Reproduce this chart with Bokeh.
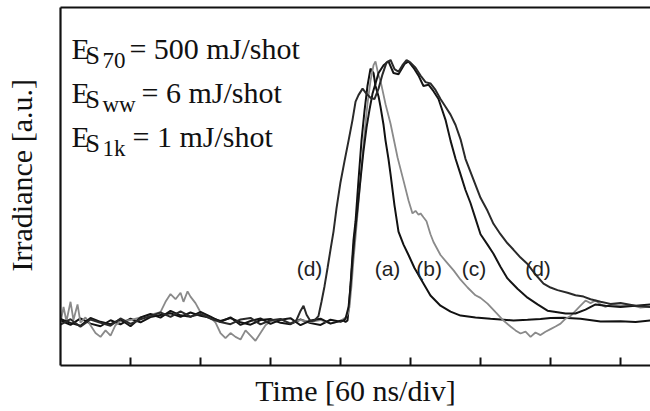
import math
from bokeh.plotting import figure
from bokeh.models import Range1d, LinearAxis, FixedTicker, Label
from bokeh.embed import file_html
from bokeh.resources import INLINE

# ---------------- data (time in ns, irradiance in %) ----------------
base_t = [0, 8.6, 17.1, 25.7, 34.3, 42.9, 51.4, 60, 68.6, 77.1, 85.7, 94.3, 102.9, 111.4, 120,
          128.6, 137.1, 145.7, 154.3, 162.9, 171.4, 180, 188.6, 197.1, 205.7, 214.3, 222.9, 231.4, 240]

a_base = [0.8, -0.9, 1.6, -0.4, -1.4, 0.9, -0.7, 1.5, 0.1, 2.1, 2.9, 3.6, 2.2, 3.9, 2.6,
          1.9, 0.6, 1.8, 0.1, -0.8, 1.0, 1.4, -0.1, -0.6, 1.2, -0.2, -0.9, 1.1, 0.3]
a_pulse_t = [242.6, 244.3, 246, 247.7, 249.4, 251.1, 252.9, 255.4, 258, 260.6, 263.1, 265.7, 268.3,
             270, 272.6, 274.3, 276.9, 278.6, 281.1, 282.9, 286.3, 289.7, 294, 298.3, 303.4, 308.6,
             317.1, 325.7, 334.3, 342.9, 355.7, 368.6, 377.1, 388.3, 400.3, 411.4, 420, 431.1,
             445.7, 462.9, 480, 492.9, 505.7]
a_pulse = [0.9, 0.2, 0.8, 8.5, 20, 31.5, 39, 54.6, 70, 81.5, 91, 97.7, 96,
           91, 87, 83, 76, 70, 63, 57, 45, 35, 30, 26, 21, 17,
           10.4, 6.5, 4.2, 2.7, 2.0, 1.5, 1.2, 0.8, 1.1, 1.4, 1.8, 1.9,
           1.5, 0.4, 0.5, 0.2, 0.8]

b_t = [0, 2.6, 5.1, 8.6, 11.1, 14.6, 17.1, 21.4, 25.7, 30, 34.3, 38.6, 42.9, 47.1, 51.4, 60, 68.6,
       77.1, 85.7, 90, 94.3, 98.6, 102.9, 105.4, 108.9, 111.4, 115.7, 120, 128.6, 132.9, 137.1,
       141.4, 145.7, 150, 154.3, 158.6, 162.9, 167.1, 171.4, 175.7, 180, 188.6, 197.1, 205.7,
       214.3, 222.9, 231.4, 240, 244.3, 246, 247.7, 249.4, 251.1, 252.9, 255.4, 258, 260.6, 263.1,
       265.7, 268.3, 270, 272.6, 274.3, 278.6, 282.9, 288.9, 294, 298.3, 301.7, 304.3, 306.9,
       308.6, 311.1, 313.7, 317.1, 319.7, 325.7, 331.4, 337.1, 342.9, 348.9, 355.7, 360, 366,
       372.9, 379.7, 385.7, 390, 394.3, 398.6, 402.9, 407.1, 411.4, 415.7, 420, 424.3, 428.6,
       432.9, 437.1, 441.4, 445.7, 450, 454.3, 458.6, 462.9, 467.1, 471.4, 480, 488.6, 497.1, 505.7]
b_y = [0, 6, 0.5, 8, 1, 7, 0, 2, -1, -4, -5.5, -3, -5, -1, 0.5, 1, 2,
       3, 4, 8, 11, 9, 11.5, 8, 12, 10, 7.5, 4, 2, 0, -4,
       -6, -4, -5.5, -6.5, -3, -5, -7, -4, -1, 0.5, 1.2, -0.2, 1,
       0.3, 1, -0.3, 0.6, 2, 3, 6, 14, 24, 33, 46, 60, 73, 84,
       93, 99, 100.5, 95, 93, 84, 76.5, 63.5, 54.6, 47, 42, 43, 41.5,
       42, 40.5, 39, 34, 31, 26, 23, 20, 16.5, 13.5, 10.5, 9.5, 7.3,
       4, 0.8, -1.5, -3, -4.2, -3.5, -5.5, -3.8, -4.8, -3.5, -2.5, -1.5, -0.4,
       1.5, 2.5, 4.5, 6.5, 8.5, 7.5, 8.5, 7, 6, 7, 6.5, 6.8, 5.8, 6.2]

c_base = [1.4, -0.1, -1.2, 1.8, 0.3, -0.6, 1.2, -1.4, 2.0, 3.3, 1.9, 4.5, 2.8, 2.2, 4.1,
          2.3, 0.3, 2.0, -0.9, 0.6, 1.6, -0.5, 1.1, 1.7, -1.0, 0.8, 1.5, -0.4, 0.7]
c_pulse_t = [242.6, 244.3, 246.9, 248.6, 250.3, 252, 254.6, 257.1, 259.7, 262.3, 264.9, 267.4, 270,
             272.6, 276.9, 281.1, 285.4, 289.7, 294.9, 298.3, 302.6, 306.9, 311.1, 315.4, 319.7,
             324, 330, 334.3, 338.6, 342.9, 347.1, 351.4, 355.7, 360, 366, 371.1, 377.1, 383.1,
             391.7, 400.3, 408.9, 417.4, 426, 432.9, 441.4, 450, 458.6, 467.1, 480, 492.9, 505.7]
c_pulse = [0.8, 1.5, 6, 14, 24, 33, 44, 55, 66, 75, 82, 88, 92,
           96, 99, 100.5, 96, 95.5, 99.5, 100.5, 98, 95, 91, 91.5, 89,
           86, 78, 70, 63, 57, 51, 46, 40, 34, 30, 26.5, 21.5, 17,
           13, 9.6, 7, 4.6, 4, 3.5, 3.5, 5, 7, 6.5, 6, 6.5, 7]

d_t = [0, 8.6, 17.1, 25.7, 34.3, 42.9, 51.4, 60, 68.6, 77.1, 85.7, 94.3, 102.9, 111.4, 120,
       128.6, 137.1, 145.7, 154.3, 162.9, 171.4, 180, 188.6, 197.1, 202.3, 205.7, 208.3, 210.9,
       214.3, 217.7, 221.1, 223.7, 226.3, 228.9, 231.4, 234, 236.6, 240, 243.4, 246.9, 250.3,
       252.9, 255.4, 258.9, 262.3, 265.7, 269.1, 272.6, 276, 279.4, 282.9, 286.3, 289.7, 293.1,
       296.6, 300, 304.3, 308.6, 312.9, 317.1, 321.4, 325.7, 330, 334.3, 338.6, 342.9, 347.1,
       351.4, 355.7, 360, 366, 371.1, 377.1, 383.1, 388.3, 394.3, 400.3, 407.1, 414, 420, 426,
       434.6, 441.4, 448.3, 454.3, 462.9, 471.4, 480, 492.9, 505.7]
d_y = [-0.8, 1.3, -1.6, 1.2, -0.1, -1.2, 1.6, -0.5, 1.3, 2.5, 3.9, 2.2, 4.3, 2.3, 3.3,
       1.5, 0.2, -0.6, 1.2, 1.8, -0.7, 0.9, 1.4, -0.5, 1, 4.5, 6.5, 3,
       0.5, 0.8, 2.5, 8, 14, 21, 28, 35, 44, 54, 62, 70, 78,
       85, 87.5, 90, 88, 86.5, 86, 90, 95.5, 100, 101, 97.5, 96.5, 99,
       101, 100, 98, 95, 92.5, 92, 89.5, 86, 83, 80, 76, 70.5, 63,
       58, 53, 48, 43, 38, 34, 30.5, 28, 25, 22.5, 18.5, 15, 13.5, 12.5,
       11.5, 10.5, 10, 9, 8, 7.2, 7.5, 6.5, 6]

label_text = ["(d)", "(a)", "(b)", "(c)", "(d)"]
label_t = [213.4, 280.3, 315.9, 354.4, 409.3]
label_y = [20.8, 20.8, 20.8, 20.8, 20.8]

x_ticks = [60, 120, 180, 240, 300, 360, 420, 480]

X_MIN, X_MAX = 0, 505.7
Y_MIN, Y_MAX = -16.5, 121.2

# ---------------- figure ----------------
p = figure(width=650, height=411, output_backend="svg", toolbar_location=None,
           x_range=Range1d(X_MIN, X_MAX), y_range=Range1d(Y_MIN, Y_MAX),
           min_border_left=60, min_border_right=0, min_border_top=7, min_border_bottom=46)
p.outline_line_color = None
p.xgrid.visible = False
p.ygrid.visible = False
p.background_fill_color = "white"
p.border_fill_color = "white"

serif = "Liberation Serif"
ink = "#111111"

xa = p.xaxis[0]
xa.ticker = FixedTicker(ticks=[])
xa.major_tick_in = 0
xa.major_tick_out = 0
xa.minor_tick_line_color = None
xa.axis_line_width = 2.2
xa.axis_line_color = ink
xa.axis_label = "Time [60 ns/div]"
xa.axis_label_text_font = serif
xa.axis_label_text_font_size = "30px"
xa.axis_label_text_font_style = "normal"
xa.axis_label_text_color = ink
xa.axis_label_standoff = 8

ya = p.yaxis[0]
ya.ticker = FixedTicker(ticks=[])
ya.major_tick_in = 0
ya.major_tick_out = 0
ya.minor_tick_line_color = None
ya.axis_line_width = 2.2
ya.axis_line_color = ink
ya.axis_label = "\u00a0\u00a0\u00a0Irradiance [a.u.]"
ya.axis_label_text_font = serif
ya.axis_label_text_font_size = "30px"
ya.axis_label_text_font_style = "normal"
ya.axis_label_text_color = ink
ya.axis_label_standoff = 23

top = LinearAxis(ticker=FixedTicker(ticks=[]), major_tick_in=0, major_tick_out=0,
                 minor_tick_line_color=None, axis_line_width=2, axis_line_color=ink)
p.add_layout(top, "above")

# inward tick marks on the time axis (half of each dash is clipped by the frame)
p.scatter(x_ticks, [Y_MIN] * len(x_ticks), marker="dash", angle=math.pi / 2, size=16,
          line_color=ink, line_width=2)

# traces
p.line(base_t + a_pulse_t, a_base + a_pulse, line_color="#111111", line_width=2)
p.line(b_t, b_y, line_color="#8a8a8a", line_width=1.8)
p.line(base_t + c_pulse_t, c_base + c_pulse, line_color="#151515", line_width=2)
p.line(d_t, d_y, line_color="#2a2a2a", line_width=2)

for txt, tx, ty in zip(label_text, label_t, label_y):
    p.add_layout(Label(x=tx, y=ty, text=txt, text_font="Liberation Sans", text_font_size="21px",
                       text_align="center", text_baseline="middle", text_color="#222222"))

rows = [
    (105.4, 102.7, 100.8, "70", 59.1, "= 500 mJ/shot"),
    (88.5, 85.8, 83.8, "ww", 69.4, "= 6 mJ/shot"),
    (71.5, 68.8, 66.9, "1k", 61.7, "= 1 mJ/shot"),
]
for y_e, y_s, y_sub, sub, x_eq, rest in rows:
    p.add_layout(Label(x=9.4, y=y_e, text="E", text_font=serif, text_font_size="30px",
                       text_baseline="alphabetic", text_color=ink))
    p.add_layout(Label(x=21.4, y=y_s, text="S", text_font=serif, text_font_size="26px",
                       text_baseline="alphabetic", text_color=ink))
    p.add_layout(Label(x=36.0, y=y_sub, text=sub, text_font=serif, text_font_size="23px",
                       text_baseline="alphabetic", text_color=ink))
    p.add_layout(Label(x=x_eq, y=y_e, text=rest, text_font=serif, text_font_size="30px",
                       text_baseline="alphabetic", text_color=ink))

open("out.html", "w").write(file_html(p, INLINE))
